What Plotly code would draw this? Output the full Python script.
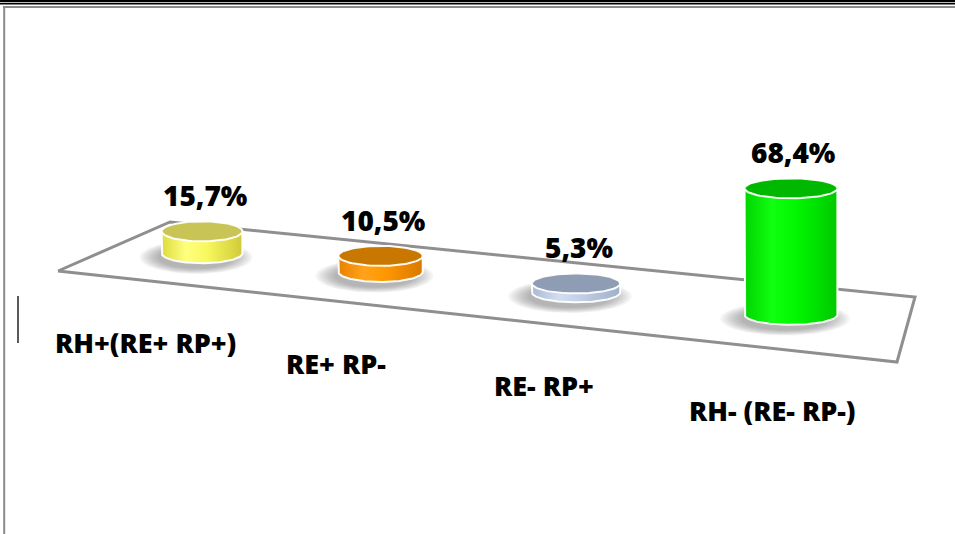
import numpy as np
import plotly.graph_objects as go

# ---- data -------------------------------------------------------------
categories = ["RH+(RE+ RP+)", "RE+ RP-", "RE- RP+", "RH- (RE- RP-)"]
percent = [15.7, 10.5, 5.3, 68.4]
value_labels = ["15,7%", "10,5%", "5,3%", "68,4%"]

# ---- styles -----------------------------------------------------------
side_scales = [
    [[0, "#dcdc3c"], [0.3, "#ffff80"], [0.55, "#f8f860"], [1, "#cfcb38"]],
    [[0, "#e88000"], [0.3, "#ffa31a"], [0.55, "#ff9800"], [1, "#d97800"]],
    [[0, "#a9b9d2"], [0.3, "#d2ddef"], [0.55, "#c2cfe6"], [1, "#9fb0c8"]],
    [[0, "#00d400"], [0.3, "#10ff10"], [0.55, "#00f800"], [1, "#00c800"]],
]
top_colors = ["#c8c455", "#c87800", "#8e9db4", "#00b800"]
FLOOR_COLOR = "#8f8f8f"
FONT = "Open Sans"

W, H = 955, 534

# ---- view: floor plane and perspective --------------------------------
# floor corners (front-left, front-right, back-right, back-left)
FLOOR = np.array([[58, 271], [897, 362], [915, 297], [170, 222]], float)
PERSP = -0.17           # foreshortening along the category axis
RX0, RY = 39.5, 10.0    # cylinder radii at unit scale
PX_PER_PCT = 1.34       # vertical pixels per percentage point
DEPTH = 0.54            # base position across the floor depth


def floor_point(u, v):
    fl, fr, br, bl = FLOOR
    front = fl + u * (fr - fl)
    back = bl + u * (br - bl)
    return front + v * (back - front)


def warp(t):
    return t * (1 + PERSP) / (1 + PERSP * t)


def scale(t):
    return 1.0 / (1 + PERSP * t)


def ellipse(cx, cy, rx, ry, a0=0, a1=2 * np.pi, n=80):
    a = np.linspace(a0, a1, n)
    return cx + rx * np.cos(a), cy + ry * np.sin(a)


fig = go.Figure()

# floor outline
fx = list(FLOOR[:, 0]) + [FLOOR[0, 0]]
fy = list(FLOOR[:, 1]) + [FLOOR[0, 1]]
fig.add_trace(go.Scatter(x=fx, y=fy, mode="lines",
                         line=dict(color=FLOOR_COLOR, width=3),
                         hoverinfo="skip"))

n = len(categories)
annotations = []
for i, (cat, val, lab) in enumerate(zip(categories, percent, value_labels)):
    t = (i + 0.5) / n
    u = warp(t)
    s = scale(t)
    cx, yb = floor_point(u, DEPTH)
    rx = RX0 * s
    ht = val * PX_PER_PCT * s * s
    yt = yb - ht

    # soft shadow on the floor
    layers = 10
    for k in range(layers):
        f = 1.4 - 0.05 * k
        ex, ey = ellipse(cx - 6, yb + 4, rx * f, RY * f * 1.2)
        fig.add_trace(go.Scatter(x=ex, y=ey, mode="lines", fill="toself",
                                 fillcolor="rgba(90,90,90,0.055)",
                                 line=dict(width=0), hoverinfo="skip"))

    # cylinder body
    bx, by = ellipse(cx, yb, rx, RY, np.pi, 0)
    sx = [cx - rx] + list(bx) + [cx + rx, cx - rx]
    sy = [yt] + list(by) + [yt, yt]
    fig.add_trace(go.Scatter(
        x=sx, y=sy, mode="lines", fill="toself",
        fillgradient=dict(type="horizontal", colorscale=side_scales[i],
                          start=cx - rx, stop=cx + rx),
        line=dict(color="rgba(255,255,255,0.95)", width=2),
        hoverinfo="skip"))

    # cylinder top
    tx, ty = ellipse(cx, yt, rx, RY)
    fig.add_trace(go.Scatter(x=tx, y=ty, mode="lines", fill="toself",
                             fillcolor=top_colors[i],
                             line=dict(color="rgba(255,255,255,0.95)", width=2),
                             hoverinfo="skip"))

    annotations.append(dict(x=cx + 3, y=yt - 36, text=lab, showarrow=False,
                            xref="x", yref="y", xanchor="center", yanchor="middle",
                            font=dict(family=FONT, size=28, color="#000", weight=800)))

    fx0, fy0 = floor_point(u, 0.0)
    annotations.append(dict(x=fx0 - 1, y=fy0 + 62, text=cat, showarrow=False,
                            xref="x", yref="y", xanchor="center", yanchor="middle",
                            font=dict(family=FONT, size=27, color="#000", weight=800)))

shapes = [
    # double rule along the top edge
    dict(type="line", xref="x", yref="y", x0=0, x1=W, y0=1, y1=1,
         line=dict(color="#000", width=2.5)),
    dict(type="line", xref="x", yref="y", x0=0, x1=W, y0=3.8, y1=3.8,
         line=dict(color="#000", width=1.5)),
    # chart-area border (top and left)
    dict(type="line", xref="x", yref="y", x0=3, x1=W, y0=7, y1=7,
         line=dict(color="#8a8a8a", width=2)),
    dict(type="line", xref="x", yref="y", x0=4.2, x1=4.2, y0=6, y1=H,
         line=dict(color="#8a8a8a", width=2)),
    # text cursor
    dict(type="line", xref="x", yref="y", x0=18, x1=18, y0=296, y1=343,
         line=dict(color="#000", width=1.3)),
]

fig.update_layout(
    width=W, height=H,
    margin=dict(l=0, r=0, t=0, b=0),
    paper_bgcolor="white", plot_bgcolor="white",
    showlegend=False,
    xaxis=dict(range=[0, W], visible=False, fixedrange=True),
    yaxis=dict(range=[H, 0], visible=False, fixedrange=True),
    annotations=annotations,
    shapes=shapes,
)

fig.write_html("out.html")
